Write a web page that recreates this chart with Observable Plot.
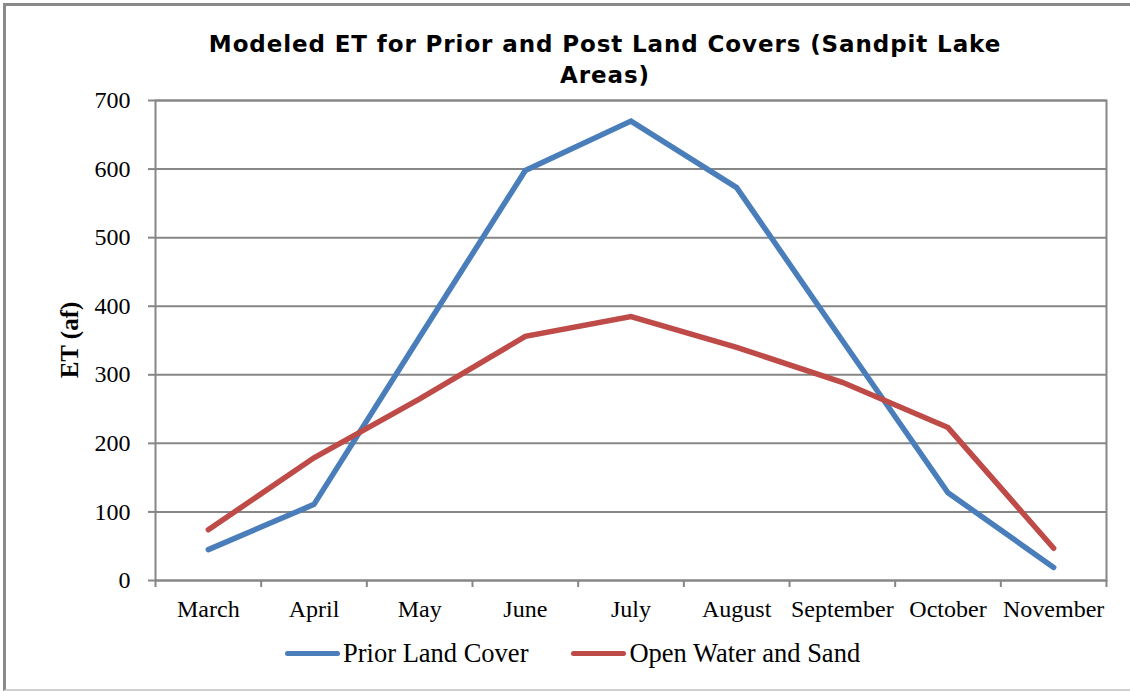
<!DOCTYPE html>
<html>
<head>
<meta charset="utf-8">
<script src="https://cdn.jsdelivr.net/npm/d3@7"></script>
<script src="https://cdn.jsdelivr.net/npm/@observablehq/plot@0.6"></script>
<style>
  html, body { margin: 0; padding: 0; background: white; }
  #wrap { position: relative; width: 1130px; height: 691px; overflow: hidden; background: white; }
  #frame { position: absolute; left: 3px; top: 3px; width: 1140px; height: 683px;
           border-top: 3px solid #8a8a8a; border-left: 3px solid #8a8a8a; border-bottom: 2px solid #d0d0d0; }
  #title { position: absolute; left: 80px; width: 1050px; top: 29px; text-align: center;
           font-family: "DejaVu Sans", sans-serif; font-weight: bold; font-size: 23px; letter-spacing: 0.9px; line-height: 31px; color: #000; }
  #ylabel { position: absolute; left: 70px; top: 340px; transform: translate(-50%, -50%) rotate(-90deg);
            font-family: "Liberation Serif", "Times New Roman", serif; font-weight: bold; font-size: 25px; white-space: nowrap; }
  #chart { position: absolute; left: 0; top: 92px; }
  #legend { position: absolute; left: 285px; top: 638px; display: flex; align-items: center; gap: 43px;
            font-family: "Liberation Serif", "Times New Roman", serif; font-size: 26.5px; }
  .item { display: flex; align-items: center; gap: 3px; }
  .swatch { width: 55px; height: 5px; border-radius: 3px; }
</style>
</head>
<body>
<div id="wrap">
  <div id="frame"></div>
  <div id="title">Modeled ET for Prior and Post Land Covers (Sandpit Lake<br>Areas)</div>
  <div id="ylabel">ET (af)</div>
  <div id="chart"></div>
  <div id="legend"></div>
</div>
<script>
const months = ["March", "April", "May", "June", "July", "August", "September", "October", "November"];
const seriesNames = ["Prior Land Cover", "Open Water and Sand"];
const seriesColors = ["#4a7ebb", "#be4b48"];
const priorLandCover = [45, 111, 355, 598, 670, 573, 350, 128, 19];
const openWaterSand = [74, 179, 265, 356, 385, 340, 289, 223, 47];
const yTicks = [0, 100, 200, 300, 400, 500, 600, 700];

const idx = months.map((_, i) => i);
const boundaries = months.map((_, i) => i - 0.5).concat([months.length - 0.5]);
const data = [];
months.forEach((m, i) => {
  data.push({i, month: m, series: seriesNames[0], value: priorLandCover[i]});
  data.push({i, month: m, series: seriesNames[1], value: openWaterSand[i]});
});

const chart = Plot.plot({
  width: 1130,
  height: 538,
  marginTop: 8,
  marginBottom: 50,
  marginLeft: 155,
  marginRight: 24,
  style: {fontFamily: "'Liberation Serif', 'Times New Roman', serif", fontSize: "24px", color: "black", background: "transparent", overflow: "visible"},
  x: {domain: [-0.5, months.length - 0.5]},
  y: {domain: [0, 700]},
  color: {domain: seriesNames, range: seriesColors},
  marks: [
    Plot.gridY(yTicks, {stroke: "#868686", strokeOpacity: 1, strokeWidth: 2}),
    Plot.frame({stroke: "#868686", strokeWidth: 2}),
    Plot.axisY(yTicks, {tickSize: 7, tickPadding: 18, stroke: "#868686", strokeWidth: 2, fill: "black", label: null, fontSize: 24}),
    Plot.axisX(boundaries, {tickSize: 7, tickFormat: () => "", stroke: "#868686", strokeWidth: 2, label: null}),
    Plot.axisX(idx, {tickSize: 0, tickPadding: 19, tickFormat: i => months[i], fill: "black", label: null, fontSize: 24}),
    Plot.line(data, {x: "i", y: "value", z: "series", stroke: "series", strokeWidth: 5.5, strokeLinecap: "round", strokeLinejoin: "miter", strokeMiterlimit: 4})
  ]
});
document.getElementById("chart").appendChild(chart);

const legend = document.getElementById("legend");
seriesNames.forEach((name, k) => {
  const item = document.createElement("div");
  item.className = "item";
  const sw = document.createElement("div");
  sw.className = "swatch";
  sw.style.background = seriesColors[k];
  const label = document.createElement("span");
  label.textContent = name;
  item.appendChild(sw);
  item.appendChild(label);
  legend.appendChild(item);
});
</script>
</body>
</html>
